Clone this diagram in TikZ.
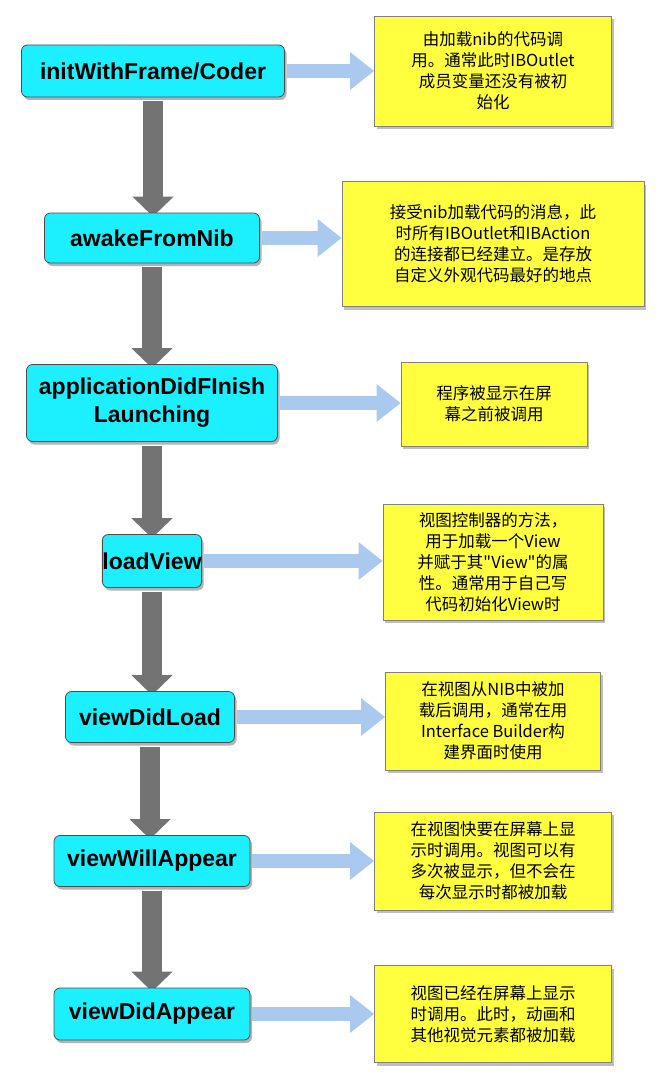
\documentclass[tikz,border=0pt]{standalone}
\usepackage{fontspec}
\setmainfont{Liberation Sans}
\newfontfamily\cjk{Noto Sans CJK SC}
\usetikzlibrary{shadows,arrows.meta,backgrounds}
\definecolor{cy}{HTML}{1CF0FF}
\definecolor{yl}{HTML}{FFFF40}
\definecolor{bl}{HTML}{A9C9EE}
\begin{document}
\begin{tikzpicture}[x=1pt,y=-1pt,
 m/.style={draw=black!70,line width=0.8pt,fill=cy,rounded corners=6pt,drop shadow={opacity=0.6,shadow xshift=2pt,shadow yshift=-3pt},font=\bfseries\fontsize{23}{28}\selectfont,align=center,inner sep=0pt},
 n/.style={draw=black!50,line width=0.6pt,fill=yl,drop shadow={opacity=0.5,shadow xshift=2pt,shadow yshift=-3pt},font=\cjk\fontsize{16.5}{21}\selectfont,align=center,inner sep=0pt},
 va/.style={line width=20pt,draw=black!55,-{Triangle[width=40pt,length=20pt]}},
 ha/.style={line width=14pt,draw=bl,-{Triangle[width=36pt,length=24pt]}}]
\useasboundingbox (0,0) rectangle (666,1089);
\node[m,minimum width=263pt,minimum height=52pt] (a1) at (153,71) {initWithFrame/Coder};
\node[m,minimum width=215pt,minimum height=50pt] (a2) at (152,238) {awakeFromNib};
\node[m,minimum width=251pt,minimum height=77pt] (a3) at (152,403) {applicationDidFInish\\Launching};
\node[m,minimum width=82pt,minimum height=53pt] (a4) at (152,561) {loadView};
\node[m,minimum width=169pt,minimum height=51pt] (a5) at (150,717) {viewDidLoad};
\node[m,minimum width=196pt,minimum height=51pt] (a6) at (152,861) {viewWillAppear};
\node[m,minimum width=196pt,minimum height=52pt] (a7) at (152,1014) {viewDidAppear};
\node[n,minimum width=237pt,minimum height=110pt] (b1) at (493,71) {由加载nib的代码调\\用。通常此时IBOutlet\\成员变量还没有被初\\始化};
\node[n,minimum width=302pt,minimum height=125pt] (b2) at (493,244) {接受nib加载代码的消息，此\\时所有IBOutlet和IBAction\\的连接都已经建立。是存放\\自定义外观代码最好的地点};
\node[n,minimum width=186pt,minimum height=84pt] (b3) at (494,404) {程序被显示在屏\\幕之前被调用};
\node[n,minimum width=220pt,minimum height=116pt] (b4) at (493,562) {视图控制器的方法，\\用于加载一个View\\并赋于其"View"的属\\性。通常用于自己写\\代码初始化View时};
\node[n,minimum width=215pt,minimum height=98pt] (b5) at (493,721) {在视图从NIB中被加\\载后调用，通常在用\\Interface Builder构\\建界面时使用};
\node[n,minimum width=237pt,minimum height=98pt] (b6) at (493,861) {在视图快要在屏幕上显\\示时调用。视图可以有\\多次被显示，但不会在\\每次显示时都被加载};
\node[n,minimum width=237pt,minimum height=97pt] (b7) at (493,1014) {视图已经在屏幕上显示\\时调用。此时，动画和\\其他视觉元素都被加载};
\begin{scope}[on background layer]
\foreach \i/\j in {1/2,2/3,3/4,4/5,5/6,6/7}
  \draw[va] ([yshift=-4pt]a\i.south) -- ([yshift=-4pt]a\i.south |- a\j.north);
\end{scope}
\foreach \i in {1,...,7}
  \draw[ha] ([xshift=2pt]a\i.east) -- (a\i.east -| b\i.west);
\end{tikzpicture}
\end{document}
